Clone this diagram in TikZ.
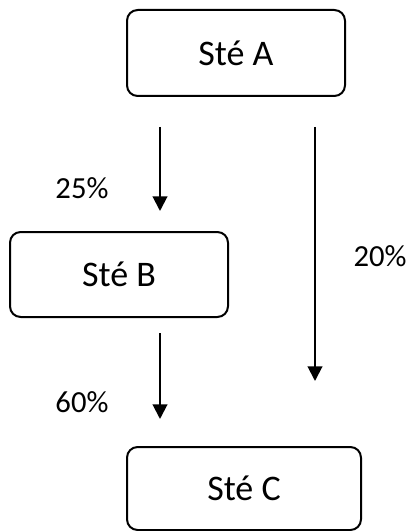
\documentclass[tikz,border=0pt]{standalone}
\usepackage{fontspec}
\setmainfont{Carlito}
\usetikzlibrary{arrows.meta}
\begin{document}
\begin{tikzpicture}[x=0.75pt,y=-0.75pt,
  company/.style={draw=black, line width=1.5pt, rounded corners=8pt, inner sep=0pt,
    font=\fontsize{27}{32}\selectfont},
  share/.style={font=\fontsize{23}{28}\selectfont, inner sep=0pt},
  flow/.style={line width=1.5pt, -{Triangle[width=11pt,length=11pt]}}]
  \useasboundingbox (0,0) rectangle (409,531);
  % companies
  \node[company, minimum width=163.5pt, minimum height=64.5pt] (A) at (236,53) {Sté A};
  \node[company, minimum width=163.5pt, minimum height=63.75pt] (B) at (119,274.5) {Sté B};
  \node[company, minimum width=175.5pt, minimum height=62.25pt] (C) at (244,488.5) {Sté C};
  % arrow end points
  \coordinate (ab1) at (160,127);
  \coordinate (ab2) at (160,211);
  \coordinate (bc1) at (160,333);
  \coordinate (bc2) at (160,419);
  \coordinate (ac1) at (315,127);
  \coordinate (ac2) at (315,381);
  \draw[flow] (ab1) -- (ab2);
  \draw[flow] (bc1) -- (bc2);
  \draw[flow] (ac1) -- (ac2);
  % shares
  \node[share] (p25) at (82,188) {25\%};
  \node[share] (p60) at (82,402) {60\%};
  \node[share] (p20) at (380,256) {20\%};
\end{tikzpicture}
\end{document}
